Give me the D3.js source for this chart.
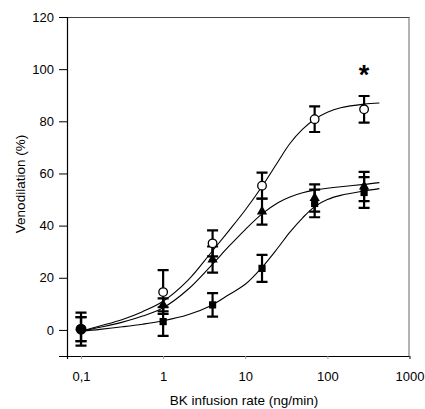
<!DOCTYPE html>
<html>
<head>
<meta charset="utf-8">
<script src="https://cdn.jsdelivr.net/npm/d3@7"></script>
<style>
  body { margin: 0; background: #fff; }
  svg { display: block; font-family: "Liberation Sans", Arial, sans-serif; }
  .curve { fill: none; stroke: #000; stroke-width: 1.1; }
  .err { stroke: #000; stroke-width: 2.2; fill: none; }
</style>
</head>
<body>
<div id="chart"></div>
<script>
// doses (ng/min)
var doses = [0.1, 1, 4, 16, 70, 280]

// open circles
var meanOpen = [0.3, 14.5, 33.2, 55.3, 80.8, 84.6]
var semOpen  = [4.6, 8.4, 5.0, 5.0, 4.9, 5.1]
// filled triangles
var meanTri = [0.3, 9.6, 27.0, 45.4, 50.6, 55.0]
var semTri  = [4.6, 2.5, 5.0, 5.0, 5.2, 5.6]
// filled squares
var meanSq = [0.3, 3.2, 9.6, 23.6, 48.5, 52.7]
var semSq  = [6.3, 5.5, 4.5, 5.2, 5.3, 5.9]

// fitted curves
var fitX    = [0.1, 0.17, 0.32, 0.56, 1, 2, 3.8, 6.3, 10, 16, 25, 35, 50, 70, 100, 145, 280, 430]
var fitOpen = [-0.5, 1.5, 4, 7, 11, 19, 29.5, 38, 46, 55, 64.5, 71.5, 77, 80.8, 83.5, 85.2, 86.6, 87]
var fitTri  = [-0.5, 1.0, 3, 5.3, 8.5, 15.5, 24.5, 32, 38.5, 44.5, 48.8, 51, 52.6, 53.6, 54.3, 54.9, 55.8, 56.5]
var fitSq   = [-0.5, 0.2, 1.2, 2.2, 3.5, 5.8, 9.3, 13.5, 17.5, 24, 31.5, 37.5, 43, 47.3, 50, 51.6, 53.3, 54.2]

var xTicks = [0.1, 1, 10, 100, 1000]
var xTickLabels = ['0,1', '1', '10', '100', '1000']
var yTicks = [0, 20, 40, 60, 80, 100, 120]

var star = {dose: 280, value: 100}

var W = 425, H = 409
var m = {left: 67, right: 15.5, top: 17, bottom: 53}

var svg = d3.select('#chart').append('svg').attr('width', W).attr('height', H)
var g = svg.append('g').attr('transform', 'translate(' + m.left + ',' + m.top + ')')
var w = W - m.left - m.right, h = H - m.top - m.bottom

var x = d3.scaleLog().domain([0.0675, 1000]).range([0, w])
var y = d3.scaleLinear().domain([-10, 120]).range([h, 0])

// frame
g.append('line').attr('x1', 0).attr('x2', w).attr('y1', 0.5).attr('y2', 0.5).attr('stroke', '#444')
g.append('line').attr('x1', w - 0.5).attr('x2', w - 0.5).attr('y1', 0).attr('y2', h).attr('stroke', '#666')

var yAxis = g.append('g')
  .call(d3.axisLeft(y).tickValues(yTicks).tickSize(8).tickPadding(5))
var xAxis = g.append('g').attr('transform', 'translate(0,' + h + ')')
  .call(d3.axisBottom(x).tickValues(xTicks).tickSize(3).tickPadding(13)
    .tickFormat(function(d, i){ return xTickLabels[i] }))

;[yAxis, xAxis].forEach(function(a){
  a.select('.domain').attr('stroke', '#000').attr('stroke-width', 1.2)
  a.selectAll('.tick line').attr('stroke', '#000')
  a.selectAll('.tick text').attr('fill', '#000').style('font-size', '13px')
})
xAxis.selectAll('.tick line').attr('stroke', '#999')

// axis titles
svg.append('text').attr('x', 244).attr('y', 405).attr('text-anchor', 'middle')
  .style('font-size', '13.5px').text('BK infusion rate (ng/min)')
svg.append('text').attr('transform', 'translate(25,184) rotate(-90)').attr('text-anchor', 'middle')
  .style('font-size', '13.5px').text('Venodilation (%)')

// curves
var line = d3.line()
  .x(function(d){ return x(d[0]) })
  .y(function(d){ return y(d[1]) })
  .curve(d3.curveCatmullRom.alpha(0.5))

;[fitOpen, fitTri, fitSq].forEach(function(f){
  g.append('path').attr('class', 'curve').attr('d', line(d3.zip(fitX, f)))
})

// error bars
function errBars(means, sems){
  doses.forEach(function(dose, i){
    var cx = x(dose), lo = y(means[i] - sems[i]), hi = y(means[i] + sems[i])
    var cap = 5.5
    g.append('path').attr('class', 'err')
      .attr('d', 'M' + cx + ',' + lo + 'V' + hi +
        'M' + (cx - cap) + ',' + hi + 'H' + (cx + cap) +
        'M' + (cx - cap) + ',' + lo + 'H' + (cx + cap))
  })
}
errBars(meanSq, semSq)
errBars(meanTri, semTri)
errBars(meanOpen, semOpen)

// markers (dose 0.1 is the shared baseline, drawn as one filled dot)
var rest = d3.range(1, doses.length)

g.selectAll('.sq').data(rest).enter().append('rect')
  .attr('x', function(i){ return x(doses[i]) - 3.6 })
  .attr('y', function(i){ return y(meanSq[i]) - 3.6 })
  .attr('width', 7.2).attr('height', 7.2).attr('fill', '#000')

var tri = d3.symbol().type(d3.symbolTriangle).size(46)
g.selectAll('.tri').data(rest).enter().append('path')
  .attr('transform', function(i){ return 'translate(' + x(doses[i]) + ',' + y(meanTri[i]) + ')' })
  .attr('d', tri).attr('fill', '#000')

g.selectAll('.open').data(rest).enter().append('circle')
  .attr('cx', function(i){ return x(doses[i]) })
  .attr('cy', function(i){ return y(meanOpen[i]) })
  .attr('r', 4.3).attr('fill', '#fff').attr('stroke', '#000').attr('stroke-width', 1.3)

g.append('circle')
  .attr('cx', x(doses[0])).attr('cy', y(d3.mean([meanOpen[0], meanTri[0], meanSq[0]])))
  .attr('r', 5.5).attr('fill', '#000')

// significance mark
g.append('text').attr('x', x(star.dose)).attr('y', y(star.value)).attr('dy', '0.55em')
  .attr('text-anchor', 'middle').style('font-size', '27px').style('font-weight', 'bold')
  .text('*')
</script>
</body>
</html>
